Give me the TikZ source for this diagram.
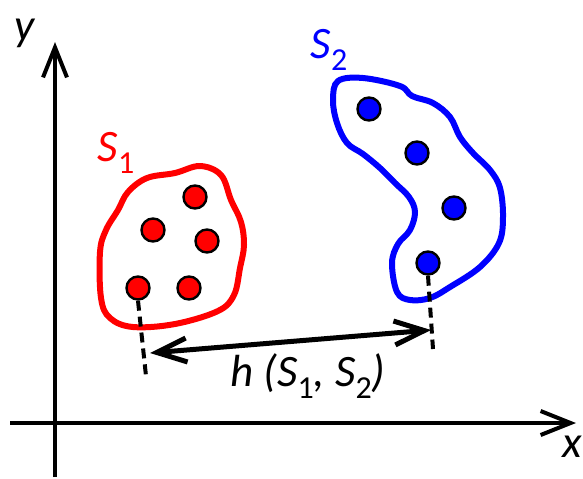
\documentclass[tikz,border=0pt]{standalone}
\usepackage{fontspec}
\setmainfont{Carlito}
\usepackage{tikz}
\usetikzlibrary{arrows.meta}

\newcommand{\idx}[1]{\raisebox{-0.28em}{\fontsize{16}{18}\selectfont\upshape #1}}

\begin{document}
\begin{tikzpicture}[x=0.5pt, y=-0.5pt, >={Straight Barb[length=15pt, width=12pt]},
    lbl/.style={font=\fontsize{22.5}{26}\selectfont\itshape, inner sep=0pt},
    rdot/.style={circle, draw=black, line width=1.2pt, fill=red,
                 minimum size=11.5pt, inner sep=0pt},
    bdot/.style={rdot, fill=blue},
    guide/.style={line width=2pt, dash pattern=on 5pt off 3pt}]

    \useasboundingbox (0,0) rectangle (583,478);

    % Ejes
    \coordinate (o1) at (55,477);
    \coordinate (o2) at (55,42);
    \coordinate (o3) at (10,423);
    \coordinate (o4) at (576,423);
    \draw[->, line width=2pt] (o1) -- (o2);
    \draw[->, line width=2pt] (o3) -- (o4);
    \node[lbl] (ylab) at (25,33) {y};
    \node[lbl] (xlab) at (572,447) {x};

    % Conjunto S1
    \draw[red, line width=3pt] plot[smooth cycle, tension=0.6] coordinates {
        (200,166) (221,175) (231,200) (241,222) (244,245) (240,268)
        (234,295) (218,311) (175,324) (133,327) (110,318) (101,298)
        (100,252) (106,230) (118,210) (128,192) (147,178) (175,173)};
    \foreach \p [count=\i] in {(195,197),(153,230),(207,241),(138,288),(189,288)}
        \node[rdot] (r\i) at \p {};
    \node[lbl, red] (s1) at (116,153) {S\idx{1}};

    % Conjunto S2
    \draw[blue, line width=3pt] plot[smooth cycle, tension=0.6] coordinates {
        (338,81) (363,78) (400,86) (412,96) (433,103) (450,117)
        (460,137) (473,153) (490,170) (500,188) (503,217) (499,243)
        (480,267) (450,287) (430,298) (410,300) (397,292) (392,263)
        (398,244) (410,230) (415,212) (409,197) (395,183) (380,168)
        (363,154) (347,143) (337,123) (333,100)};
    \foreach \p [count=\i] in {(369,109),(417,153),(454,208),(428,263)}
        \node[bdot] (b\i) at \p {};
    \node[lbl, blue] (s2) at (329,50) {S\idx{2}};

    % Distancia
    \coordinate (ra) at (146,376);
    \coordinate (rb) at (433,349);
    \draw[guide] (r4.south) -- (ra);
    \draw[guide] (b4.south) -- (rb);
    \coordinate (ha) at (150,353);
    \coordinate (hb) at (431,330);
    \draw[<->, line width=2.5pt] (ha) -- (hb);
    \node[lbl] (hlab) at (308,376) {h (S\idx{1}, S\idx{2})};
\end{tikzpicture}
\end{document}
